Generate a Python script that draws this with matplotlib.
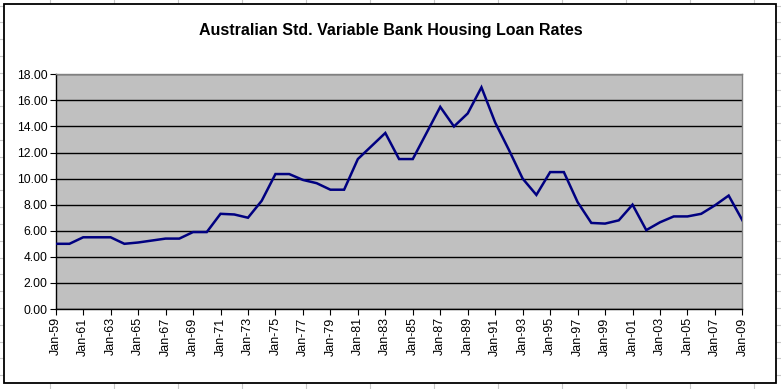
import matplotlib
matplotlib.use("Agg")
import matplotlib.pyplot as plt
from matplotlib.patches import Rectangle
from matplotlib.lines import Line2D

# ------- data (one value per January) -------
years = list(range(1959, 2010))
rates = [5.0, 5.0, 5.5, 5.5, 5.5, 5.0, 5.1, 5.25, 5.4, 5.4,
         5.9, 5.9, 7.3, 7.25, 7.0, 8.3, 10.35, 10.35, 9.9, 9.65,
         9.15, 9.15, 11.5, 12.5, 13.5, 11.5, 11.5, 13.5, 15.5, 14.0,
         15.0, 17.0, 14.3, 12.2, 10.0, 8.75, 10.5, 10.5, 8.2, 6.6,
         6.55, 6.8, 8.0, 6.05, 6.65, 7.1, 7.1, 7.3, 7.95, 8.7,
         6.8]
yticks = [0, 2, 4, 6, 8, 10, 12, 14, 16, 18]
xlabels = ["Jan-%02d" % (y % 100) for y in years]

W, H = 781, 389
plt.rcParams['font.family'] = ['Liberation Sans', 'DejaVu Sans']

fig = plt.figure(figsize=(W / 100, H / 100), dpi=100)
fig.patch.set_facecolor("white")

# spreadsheet cell lines behind the chart object
for cx in range(50, W, 64):
    fig.lines.append(Line2D([cx / W, cx / W], [0, 1], transform=fig.transFigure,
                            color="#c8c8c8", lw=0.8, zorder=-3))
y = 5.6
while y < H:
    fig.lines.append(Line2D([0, 1], [1 - y / H, 1 - y / H], transform=fig.transFigure,
                            color="#c8c8c8", lw=0.8, zorder=-3))
    y += 16.8

# chart object box
fig.patches.append(Rectangle((4 / W, 1 - 383 / H), 772 / W, 379 / H,
                             transform=fig.transFigure, facecolor="white",
                             edgecolor="black", lw=1.3, zorder=-1))

fig.text(391 / W, 1 - 31 / H, "Australian Std. Variable Bank Housing Loan Rates",
         ha="center", va="center", fontsize=11.5, fontweight="bold")

ax = fig.add_axes([55.7 / W, 1 - 309 / H, (742.4 - 55.7) / W, (309 - 74.3) / H])
ax.set_facecolor("#c0c0c0")

x = list(range(len(years)))
ax.plot(x, rates, color="#000080", lw=1.8, solid_joinstyle="miter", zorder=3)

ax.set_xlim(0, len(years) - 1)
ax.set_ylim(0, 18)
ax.set_yticks(yticks)
ax.set_yticklabels(["%.2f" % v for v in yticks], fontsize=8.7)
ax.set_xticks(x[::2])
ax.set_xticklabels(xlabels[::2], rotation=90, fontsize=9)
ax.tick_params(axis="both", direction="out", length=4, width=0.8, color="black", pad=2)
ax.yaxis.grid(True, color="black", lw=1)
ax.set_axisbelow(True)

for side in ["top", "right"]:
    ax.spines[side].set_color("#808080")
    ax.spines[side].set_linewidth(1)
for side in ["left", "bottom"]:
    ax.spines[side].set_color("black")
    ax.spines[side].set_linewidth(1)

fig.savefig("out.png", dpi=100)
